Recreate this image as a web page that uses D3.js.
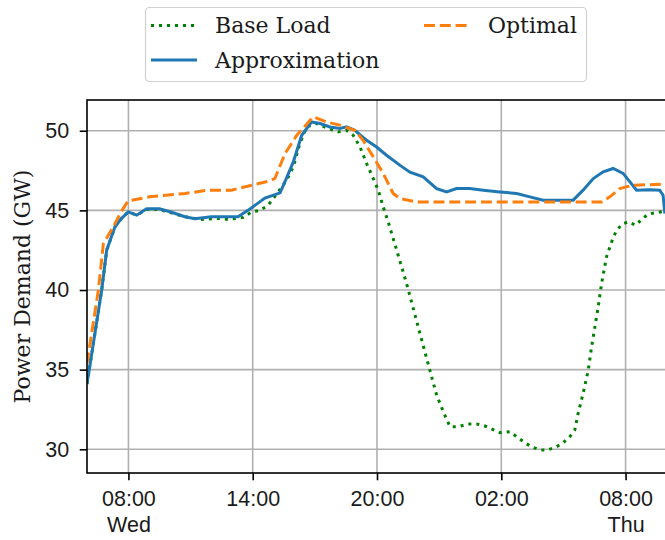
<!DOCTYPE html>
<html>
<head>
<meta charset="utf-8">
<script src="https://cdn.jsdelivr.net/npm/d3@7"></script>
<style>
	body { margin: 0; background: #fff; }
	svg { display: block; font-family: "DejaVu Serif", serif; }
</style>
</head>
<body>
<div id="chart"></div>
<script>
// hours after Wed 06:00
const approxHours = [0, 0.71, 0.95, 1.35, 1.67, 1.99, 2.4, 2.88, 3.5, 4.05, 4.72, 5.21, 6.0, 7.29, 7.77,
	8.59, 9.32, 9.56, 9.96, 10.36, 10.84, 11.25, 11.73, 12.21, 12.53, 12.93, 13.5, 13.98, 14.46,
	15.1, 15.59, 16.23, 16.88, 17.36, 17.84, 18.48, 19.13, 19.93, 20.74, 21.38, 22.02, 22.83,
	23.47, 23.95, 24.44, 24.92, 25.4, 25.88, 26.21, 26.53, 27.17, 27.65, 27.81, 27.9]
const approxGW = [34.1, 40.0, 42.5, 43.97, 44.5, 44.9, 44.7, 45.1, 45.1, 44.9, 44.6, 44.47, 44.6, 44.6, 45.0,
	45.77, 46.1, 46.8, 48.04, 49.7, 50.55, 50.45, 50.24, 50.14, 50.24, 50.03, 49.4, 48.98, 48.46,
	47.84, 47.4, 47.1, 46.37, 46.16, 46.37, 46.37, 46.27, 46.16, 46.06, 45.85, 45.64, 45.64,
	45.64, 46.27, 47.0, 47.42, 47.63, 47.32, 46.79, 46.27, 46.3, 46.27, 45.95, 44.8]

const optimalHours = [0, 0.55, 0.79, 1.27, 1.64, 1.99, 3.04, 4.73, 5.85, 6.98, 7.95, 8.83, 9.07, 9.56,
	10.12, 10.92, 11.57, 12.21, 12.93, 13.33, 13.82, 14.3, 14.78, 15.1, 15.91, 24.84, 25.24,
	25.72, 26.37, 27.9]
const optimalGW = [35.4, 40.0, 42.9, 43.97, 44.9, 45.6, 45.85, 46.06, 46.27, 46.27, 46.58, 46.85, 47.0, 48.57,
	49.7, 50.87, 50.55, 50.35, 50.03, 49.4, 48.36, 47.32, 46.06, 45.75, 45.53, 45.53, 45.85,
	46.37, 46.58, 46.64]

const baseHours = [0, 0.71, 0.95, 1.35, 1.67, 1.99, 2.4, 2.88, 3.5, 3.92, 4.73, 5.45, 6.34, 6.82, 7.54,
	7.95, 8.35, 8.75, 9.23, 9.64, 9.96, 10.28, 10.6, 11.09, 11.65, 12.13, 12.53, 12.85, 13.18,
	13.5, 13.82, 14.06, 14.3, 14.54, 14.95, 15.43, 15.75, 16.07, 16.55, 16.88, 17.2, 17.52,
	17.92, 18.4, 18.81, 19.21, 19.93, 20.42, 20.74, 21.14, 21.46, 21.86, 22.26, 22.67, 22.99,
	23.31, 23.55, 23.71, 23.95, 24.2, 24.36, 24.52, 24.68, 24.84, 25.08, 25.24, 25.37, 25.53,
	25.81, 26.13, 26.5, 26.77, 27.09, 27.52, 27.9]
const baseGW = [34.1, 40.0, 42.5, 43.97, 44.5, 44.9, 44.7, 45.05, 45.05, 44.9, 44.6, 44.43, 44.5, 44.43, 44.56,
	44.9, 45.0, 45.33, 46.16, 46.9, 47.73, 49.2, 50.24, 50.45, 50.14, 49.93, 50.03, 49.72, 48.98,
	47.94, 47.0, 46.27, 45.22, 44.28, 42.5, 40.4, 38.85, 37.28, 34.97, 33.4, 32.36, 31.42,
	31.42, 31.59, 31.59, 31.46, 31.04, 31.1, 30.79, 30.41, 30.16, 29.96, 29.96, 30.16, 30.41,
	30.79, 31.21, 32.26, 33.5, 34.97, 36.44, 37.69, 38.95, 40.4, 42.08, 42.7, 43.17, 43.65,
	44.13, 44.28, 44.07, 44.43, 44.76, 44.87, 44.95]

const tickHours = [2, 8, 14, 20, 26]
const tickLabels = ['08:00', '14:00', '20:00', '02:00', '08:00']
const tickDays = ['Wed', '', '', '', 'Thu']
const yTicks = [30, 35, 40, 45, 50]

const start = new Date(2018, 0, 17, 6, 0) // a Wednesday
const toDate = h => new Date(start.getTime() + h * 3600 * 1000)

const series = [
	{ name: 'Base Load', hours: baseHours, values: baseGW, color: '#008000', dash: '3,5' },
	{ name: 'Approximation', hours: approxHours, values: approxGW, color: '#1f77b4', dash: null },
	{ name: 'Optimal', hours: optimalHours, values: optimalGW, color: '#ff7f0e', dash: '11,4.8' }
]

const W = 665, H = 540
const margin = { top: 100, left: 87 }
const width = 580, height = 373
const textColor = '#1a1a1a'

const svg = d3.select('#chart').append('svg')
	.attr('width', W)
	.attr('height', H)

const x = d3.scaleTime()
	.domain([toDate(0), toDate(28)])
	.range([0, width])
const y = d3.scaleLinear()
	.domain([28.51, 51.93])
	.range([height, 0])

const pad = svg.append('g')
	.attr('transform', `translate(${margin.left},${margin.top})`)

svg.append('defs').append('clipPath')
	.attr('id', 'clip')
	.append('rect')
	.attr('width', width)
	.attr('height', height)

// grid
pad.append('g')
	.selectAll('line')
	.data(tickHours)
	.enter().append('line')
	.attr('x1', d => x(toDate(d))).attr('x2', d => x(toDate(d)))
	.attr('y1', 0).attr('y2', height)
	.style('stroke', '#b0b0b0').style('stroke-width', 1.6)
pad.append('g')
	.selectAll('line')
	.data(yTicks)
	.enter().append('line')
	.attr('x1', 0).attr('x2', width)
	.attr('y1', d => y(d)).attr('y2', d => y(d))
	.style('stroke', '#b0b0b0').style('stroke-width', 1.6)

// axes
const xAxis = d3.axisBottom(x)
	.tickValues(tickHours.map(toDate))
	.tickSize(7.3)
	.tickPadding(10.5)
	.tickFormat((d, i) => tickLabels[i])
const gx = pad.append('g')
	.attr('transform', `translate(0,${height})`)
	.call(xAxis)
gx.selectAll('text')
	.style('font-size', '21.5px')
	.style('fill', textColor)
	.each(function(d, i) {
		if (tickDays[i]) {
			d3.select(this).append('tspan')
				.attr('x', 0).attr('dy', '1.2em')
				.text(tickDays[i])
		}
	})

const yAxis = d3.axisLeft(y)
	.tickValues(yTicks)
	.tickSize(7.3)
	.tickPadding(10.5)
const gy = pad.append('g').call(yAxis)
gy.selectAll('text')
	.style('font-size', '21.5px')
	.style('fill', textColor)

pad.selectAll('.domain').remove()
pad.selectAll('.tick line').style('stroke', '#000').style('stroke-width', 1.6)

// curves
const lines = pad.append('g').attr('clip-path', 'url(#clip)')
for (let s of series) {
	const pts = s.hours.map((h, i) => [toDate(h), s.values[i]])
	const line = d3.line()
		.x(d => x(d[0]))
		.y(d => y(d[1]))
	lines.append('path')
		.attr('d', line(pts))
		.style('fill', 'none')
		.style('stroke', s.color)
		.style('stroke-width', 3)
		.style('stroke-dasharray', s.dash)
}

// frame
pad.append('rect')
	.attr('width', width)
	.attr('height', height)
	.style('fill', 'none')
	.style('stroke', '#000')
	.style('stroke-width', 1.6)

// y label
svg.append('text')
	.attr('transform', `translate(30,${margin.top + height / 2}) rotate(-90)`)
	.attr('text-anchor', 'middle')
	.style('font-size', '22px')
	.style('fill', textColor)
	.text('Power Demand (GW)')

// legend
const legend = svg.append('g')
legend.append('rect')
	.attr('x', 145.5).attr('y', 7.5)
	.attr('width', 441).attr('height', 74)
	.attr('rx', 4)
	.style('fill', '#fff')
	.style('stroke', '#d0d0d0')
	.style('stroke-width', 1.2)
const legendPos = [
	{ x: 151, y: 25.5 },
	{ x: 151, y: 60 },
	{ x: 424, y: 25.5 }
]
series.forEach((s, i) => {
	const p = legendPos[i]
	legend.append('line')
		.attr('x1', p.x).attr('x2', p.x + 46)
		.attr('y1', p.y).attr('y2', p.y)
		.style('stroke', s.color)
		.style('stroke-width', 3)
		.style('stroke-dasharray', s.dash)
	legend.append('text')
		.attr('x', p.x + 64)
		.attr('y', p.y)
		.attr('dy', '0.35em')
		.style('font-size', '22px')
		.style('fill', textColor)
		.text(s.name)
})
</script>
</body>
</html>
